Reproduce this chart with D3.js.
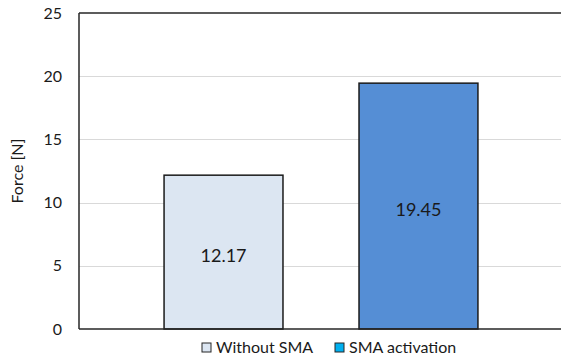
<!DOCTYPE html>
<html>
<head>
<meta charset="utf-8">
<script src="https://cdn.jsdelivr.net/npm/d3@7"></script>
<style>
  html, body { margin: 0; padding: 0; background: #fff; }
  svg { display: block; font-family: Lato, "Open Sans", sans-serif; }
</style>
</head>
<body>
<svg id="chart" width="561" height="361"></svg>
<script>
// Peak force with and without SMA activation
const categories = ["Force"];
const seriesNames = ["Without SMA", "SMA activation"];
const seriesValues = [12.17, 19.45];
const barColors = ["#DCE6F2", "#558ED5"];
const legendColors = ["#DCE6F2", "#00B0F0"];
const yTicks = [0, 5, 10, 15, 20, 25];

const svg = d3.select("#chart");
const margin = { left: 79, right: -2, top: 13, bottom: 32 };
const W = 561, H = 361;
const plotW = W - margin.left - margin.right;
const plotH = H - margin.top - margin.bottom;

const g = svg.append("g").attr("transform", `translate(${margin.left},${margin.top})`);

const y = d3.scaleLinear().domain([0, 25]).range([plotH, 0]);
const x0 = d3.scaleBand().domain(categories).range([0, plotW]).paddingInner(0).paddingOuter(0.271);
const x1 = d3.scaleBand().domain(seriesNames).range([0, x0.bandwidth()]).paddingInner(0.39).paddingOuter(0);

// horizontal gridlines
g.append("g")
  .selectAll("line")
  .data(yTicks.filter(t => t > 0 && t < 25))
  .join("line")
  .attr("x1", 0).attr("x2", plotW)
  .attr("y1", d => Math.round(y(d)) + 0.5).attr("y2", d => Math.round(y(d)) + 0.5)
  .attr("stroke", "#d9d9d9").attr("stroke-width", 1);

// bars
const bars = g.append("g").attr("transform", `translate(${x0(categories[0])},0)`);
bars.selectAll("rect")
  .data(seriesValues)
  .join("rect")
  .attr("x", (d, i) => x1(seriesNames[i]))
  .attr("y", d => y(d))
  .attr("width", x1.bandwidth())
  .attr("height", d => y(0) - y(d))
  .attr("fill", (d, i) => barColors[i])
  .attr("stroke", "#1a1a1a")
  .attr("stroke-width", 1.5);

// value labels inside bars
bars.selectAll("text")
  .data(seriesValues)
  .join("text")
  .attr("x", (d, i) => x1(seriesNames[i]) + x1.bandwidth() / 2)
  .attr("y", d => (y(d) + y(0)) / 2 + 5)
  .attr("text-anchor", "middle")
  .attr("dominant-baseline", "middle")
  .attr("font-size", 18)
  .attr("fill", "#1a1a1a")
  .text(d => d.toFixed(2));

// frame: left axis, bottom axis, top line
g.append("line").attr("x1", 0).attr("x2", 0).attr("y1", 0).attr("y2", plotH)
  .attr("stroke", "#262626").attr("stroke-width", 1.5);
g.append("line").attr("x1", 0).attr("x2", plotW).attr("y1", plotH).attr("y2", plotH)
  .attr("stroke", "#262626").attr("stroke-width", 1.5);
g.append("line").attr("x1", 0).attr("x2", plotW).attr("y1", 0).attr("y2", 0)
  .attr("stroke", "#262626").attr("stroke-width", 1.5);

// y-axis tick labels
const yAxis = d3.axisLeft(y).tickValues(yTicks).tickSize(0).tickPadding(17);
const ya = g.append("g").call(yAxis);
ya.select(".domain").remove();
ya.selectAll("text").attr("font-size", 16).attr("fill", "#1a1a1a")
  .attr("font-family", "Lato, 'Open Sans', sans-serif");

// y-axis title
svg.append("text")
  .attr("transform", `translate(23,${margin.top + plotH / 2}) rotate(-90)`)
  .attr("text-anchor", "middle")
  .attr("font-size", 16)
  .attr("fill", "#1a1a1a")
  .text("Force [N]");

// legend
const legendX = [202, 335];
const legend = svg.append("g");
seriesNames.forEach((name, i) => {
  legend.append("rect")
    .attr("x", legendX[i]).attr("y", 343)
    .attr("width", 9).attr("height", 9)
    .attr("fill", legendColors[i])
    .attr("stroke", "#262626").attr("stroke-width", 1);
  legend.append("text")
    .attr("x", legendX[i] + 14).attr("y", 353)
    .attr("font-size", 16)
    .attr("fill", "#1a1a1a")
    .text(name);
});
</script>
</body>
</html>
